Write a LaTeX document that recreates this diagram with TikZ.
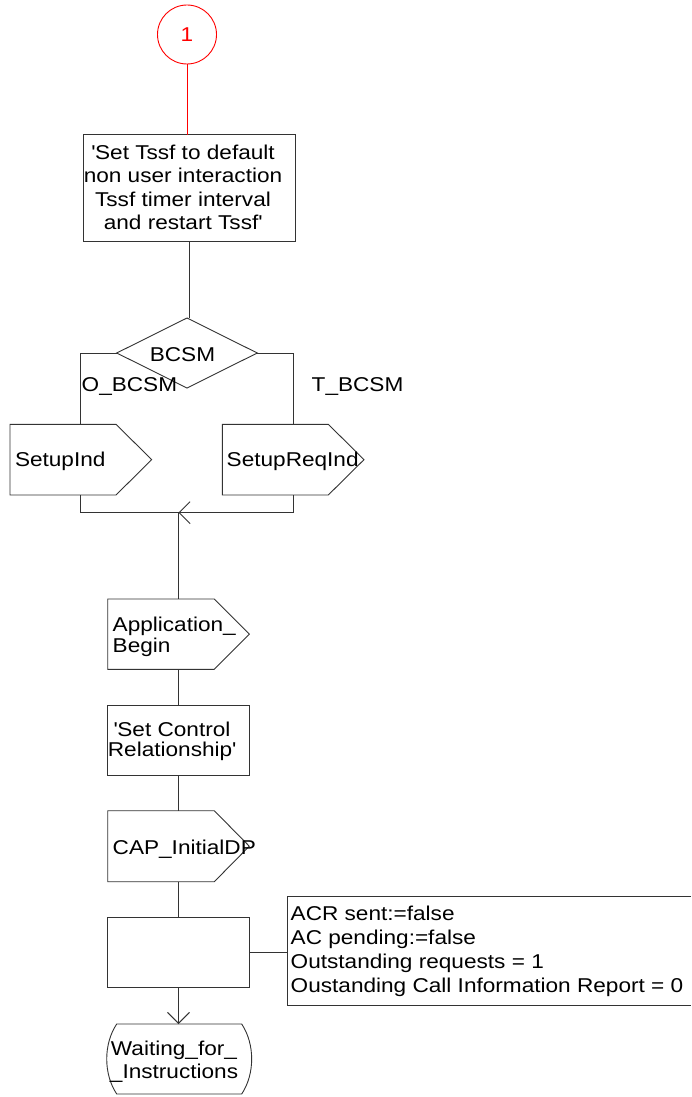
\documentclass[tikz,border=0pt]{standalone}
\usepackage{fontspec}
\setmainfont{Liberation Sans}[FakeStretch=1.13]
\usetikzlibrary{shapes.geometric,arrows.meta}
\begin{document}
\begin{tikzpicture}[x=1pt,y=-1pt,
  every node/.style={inner sep=0pt, outer sep=0pt},
  ln/.style={draw=black!80, line width=0.9pt},
  lbl/.style={font=\fontsize{20}{23.5}\selectfont, align=left},
  body/.style={rectangle, draw=none, minimum width=141.6pt, minimum height=70.5pt},
  boxn/.style={rectangle, ln, minimum width=141.6pt, minimum height=70.4pt},
  vee/.style={-{Straight Barb[length=11pt,width=22pt]}}
]
\useasboundingbox (0,0) rectangle (691,1097);

% connector circle
\node[circle, draw=red, line width=0.9pt, minimum size=59pt, text=red, font=\fontsize{20}{23.5}\selectfont] (c1) at (187,34.5) {1};

% task 1
\node[rectangle, ln, minimum width=212.4pt, minimum height=106.3pt] (t1) at (189.5,187.85) {};
\node[lbl, align=center, anchor=base] (t1txt) at (183,229.8) {\textquotesingle Set Tssf to default\\non user interaction\\Tssf timer interval\\and restart Tssf\textquotesingle};
\draw[draw=red, line width=0.9pt] (c1.south) -- (c1.south |- t1.north);

% decision
\node[diamond, ln, minimum width=140.6pt, minimum height=70pt] (d1) at (187,353) {};
\node[lbl, anchor=base] (d1txt) at (182.5,361) {BCSM};
\draw[ln] (t1.south) -- (t1.south |- d1.north);

% signals
\node[body, minimum width=141.7pt, minimum height=70.7pt] (s1) at (80.85,459.65) {};
\draw[ln] (s1.north west) -- ([xshift=-35.7pt]s1.north east) -- (s1.east) -- ([xshift=-35.7pt]s1.south east) -- (s1.south west) -- cycle;
\node[lbl, anchor=base west] (s1txt) at (15,466.7) {SetupInd};

\node[body, minimum width=141.7pt, minimum height=70.7pt] (s2) at (293.15,459.65) {};
\draw[ln] (s2.north west) -- ([xshift=-35.7pt]s2.north east) -- (s2.east) -- ([xshift=-35.7pt]s2.south east) -- (s2.south west) -- cycle;
\node[lbl, anchor=base west] (s2txt) at (226.7,466.7) {SetupReqInd};

\draw[ln] (d1.west) -| (s1.north);
\draw[ln] (d1.east) -| (s2.north);
\node[lbl, anchor=base west] (ob) at (81.7,391.7) {O\_BCSM};
\node[lbl, anchor=base west] (tb) at (311.7,391.7) {T\_BCSM};

% merge
\coordinate (mj) at (178.5,512.7);
\draw[ln] (s1.south) |- (mj);
\draw[ln, vee] (s2.south) |- (mj);

% Application_Begin
\node[body, minimum height=70.3pt] (a1) at (178.5,634.15) {};
\draw[ln] (a1.north west) -- ([xshift=-35pt]a1.north east) -- (a1.east) -- ([xshift=-35pt]a1.south east) -- (a1.south west) -- cycle;
\node[lbl, anchor=base west, font=\fontsize{20}{21}\selectfont] (a1txt) at (112.7,652.7) {Application\_\\Begin};
\draw[ln] (mj) -- (mj |- a1.north);

% Set Control Relationship
\node[boxn, minimum height=70pt] (b2) at (178.5,740) {};
\node[lbl, align=center, anchor=base, font=\fontsize{20}{20}\selectfont] (b2txt) at (172,756.7) {\textquotesingle Set Control\\Relationship\textquotesingle};
\draw[ln] (a1.south) -- (b2.north);

% CAP_InitialDP
\node[body, minimum height=71pt] (s3) at (178.5,846.2) {};
\draw[ln] (s3.north west) -- ([xshift=-35pt]s3.north east) -- (s3.east) -- ([xshift=-35pt]s3.south east) -- (s3.south west) -- cycle;
\node[lbl, anchor=base west] (s3txt) at (112.7,854.3) {CAP\_InitialDP};
\draw[ln] (b2.south) -- (s3.north);

% empty task
\node[boxn] (b3) at (178.5,952.5) {};
\draw[ln] (s3.south) -- (b3.north);

% comment
\node[rectangle, minimum width=403.3pt, minimum height=109pt] (cm) at (489.35,950.5) {};
\draw[ln] (cm.north east) -- (cm.north west) -- (cm.south west) -- (cm.south east);
\draw[ln] (b3.east) -- (b3.east -| cm.west);
\node[lbl, anchor=base west, font=\fontsize{20}{24}\selectfont] (cmtxt) at (290.7,992.7) {ACR sent:=false\\AC pending:=false\\Outstanding requests = 1\\Oustanding Call Information Report = 0};

% state
\node[rectangle, minimum width=144.4pt, minimum height=70pt] (w1) at (179.5,1059) {};
\draw[ln] (116.7,1024) -- (241.7,1024) .. controls (255,1044) and (255,1074) .. (241.7,1094) -- (116.7,1094) .. controls (103.4,1074) and (103.4,1044) .. (116.7,1024) -- cycle;
\node[lbl, align=center, anchor=base, font=\fontsize{20}{22.6}\selectfont] (w1txt) at (174,1078.3) {Waiting\_for\_\\\_Instructions};
\draw[ln, vee] (b3.south) -- (b3.south |- w1.north);
\end{tikzpicture}
\end{document}
